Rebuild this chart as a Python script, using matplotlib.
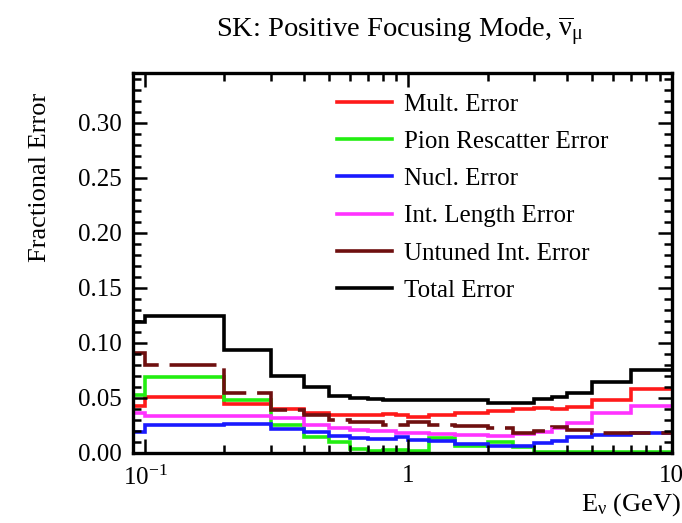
import matplotlib
matplotlib.use("Agg")
import matplotlib.pyplot as plt
from matplotlib.lines import Line2D

plt.rcParams['font.family'] = ['Liberation Serif', 'DejaVu Serif']
plt.rcParams['mathtext.fontset'] = 'custom'
plt.rcParams['mathtext.rm'] = 'Liberation Serif'
plt.rcParams['mathtext.it'] = 'Liberation Serif:italic'

# bin edges in GeV (first bin starts off-axis)
edges = [0.05, 0.1, 0.2, 0.3, 0.4, 0.5, 0.6, 0.7, 0.8, 0.9, 1.0,
         1.2, 1.5, 2.0, 2.5, 3.0, 3.5, 4.0, 5.0, 7.0, 10.0]

mult_err = [0.043, 0.051, 0.0445, 0.040, 0.0365, 0.0345, 0.034, 0.034, 0.035, 0.0345,
            0.0327, 0.0345, 0.036, 0.0378, 0.040, 0.041, 0.040, 0.042, 0.048, 0.058]
pion_err = [0.053, 0.069, 0.048, 0.025, 0.0145, 0.010, 0.004, 0.002, 0.003, 0.003,
            0.002, 0.0136, 0.006, 0.010, 0.005, 0.001, 0.0005, 0.0005, 0.0005, 0.0005]
nucl_err = [0.019, 0.0255, 0.026, 0.022, 0.019, 0.0155, 0.0136, 0.013, 0.013, 0.0148,
            0.0118, 0.011, 0.0082, 0.006, 0.006, 0.0094, 0.011, 0.0145, 0.0164, 0.018]
intlen_err = [0.036, 0.0336, 0.0336, 0.032, 0.0255, 0.0227, 0.021, 0.020, 0.020, 0.0185,
              0.0185, 0.017, 0.0164, 0.015, 0.0175, 0.019, 0.0227, 0.027, 0.036, 0.0427]
untuned_err = [0.091, 0.080, 0.0545, 0.039, 0.0345, 0.030, 0.028, 0.028, 0.0255, 0.0255,
               0.028, 0.0255, 0.0245, 0.0227, 0.018, 0.020, 0.0236, 0.021, 0.0185, 0.0185]
total_err = [0.119, 0.1245, 0.0936, 0.070, 0.060, 0.052, 0.050, 0.049, 0.048, 0.048,
             0.048, 0.048, 0.048, 0.0455, 0.0455, 0.049, 0.051, 0.0545, 0.0645, 0.0755]

labels = ["Mult. Error", "Pion Rescatter Error", "Nucl. Error",
          "Int. Length Error", "Untuned Int. Error", "Total Error"]
colors = ["#ff1a1a", "#22ee11", "#1a1aff", "#ff33ff", "#6e0f0f", "#000000"]

fig = plt.figure(figsize=(6.82, 5.23), dpi=100)
ax = fig.add_axes([0.195, 0.134, 0.79, 0.726])

series = [mult_err, pion_err, nucl_err, intlen_err, untuned_err, total_err]
lw = 2.6
for vals, c, lab in zip(series, colors, labels):
    st = ax.stairs(vals, edges, baseline=None, color=c, lw=lw)
    if lab.startswith("Untuned"):
        st.set_linestyle((0, (13, 3)))

ax.set_xscale('log')
ax.set_xlim(0.09, 9.8)
ax.set_ylim(0, 0.345)

ax.set_xticks([0.1, 1, 10], [r"$10^{-1}$", "1", "10"])
ax.set_xticks([0.2, 0.3, 0.4, 0.5, 0.6, 0.7, 0.8, 0.9,
               2, 3, 4, 5, 6, 7, 8, 9], minor=True)
ax.set_xticklabels([], minor=True)
ax.set_yticks([0.0, 0.05, 0.10, 0.15, 0.20, 0.25, 0.30],
              ["0.00", "0.05", "0.10", "0.15", "0.20", "0.25", "0.30"])
ax.set_yticks([i * 0.01 for i in range(35)], minor=True)

ax.tick_params(which='both', direction='in', top=True, right=True,
               labelsize=18, width=1.8, color='black')
ax.tick_params(which='major', length=10, pad=8)
ax.tick_params(which='minor', length=5.5)
ax.tick_params(axis='x', which='major', pad=9)
for s in ax.spines.values():
    s.set_linewidth(2.4)

fig.text(0.587, 0.941, r"SK: Positive Focusing Mode, $\overline{\mathrm{ν}}_{\mathrm{μ}}$",
         ha='center', va='center', fontsize=20.5)
fig.text(0.058, 0.66, "Fractional Error", rotation=90, ha='center', va='center',
         fontsize=19)
fig.text(0.998, 0.035, r"E$_{\mathrm{ν}}$ (GeV)", ha='right', va='center', fontsize=19)

handles = [Line2D([], [], color=c, lw=lw) for c in colors]
ax.legend(handles, labels, loc='upper left', bbox_to_anchor=(0.494, 0.822),
          bbox_transform=fig.transFigure, frameon=False, fontsize=18,
          handlelength=2.2, handletextpad=0.5, labelspacing=0.59,
          borderpad=0, borderaxespad=0)

fig.savefig("out.png", dpi=100)
